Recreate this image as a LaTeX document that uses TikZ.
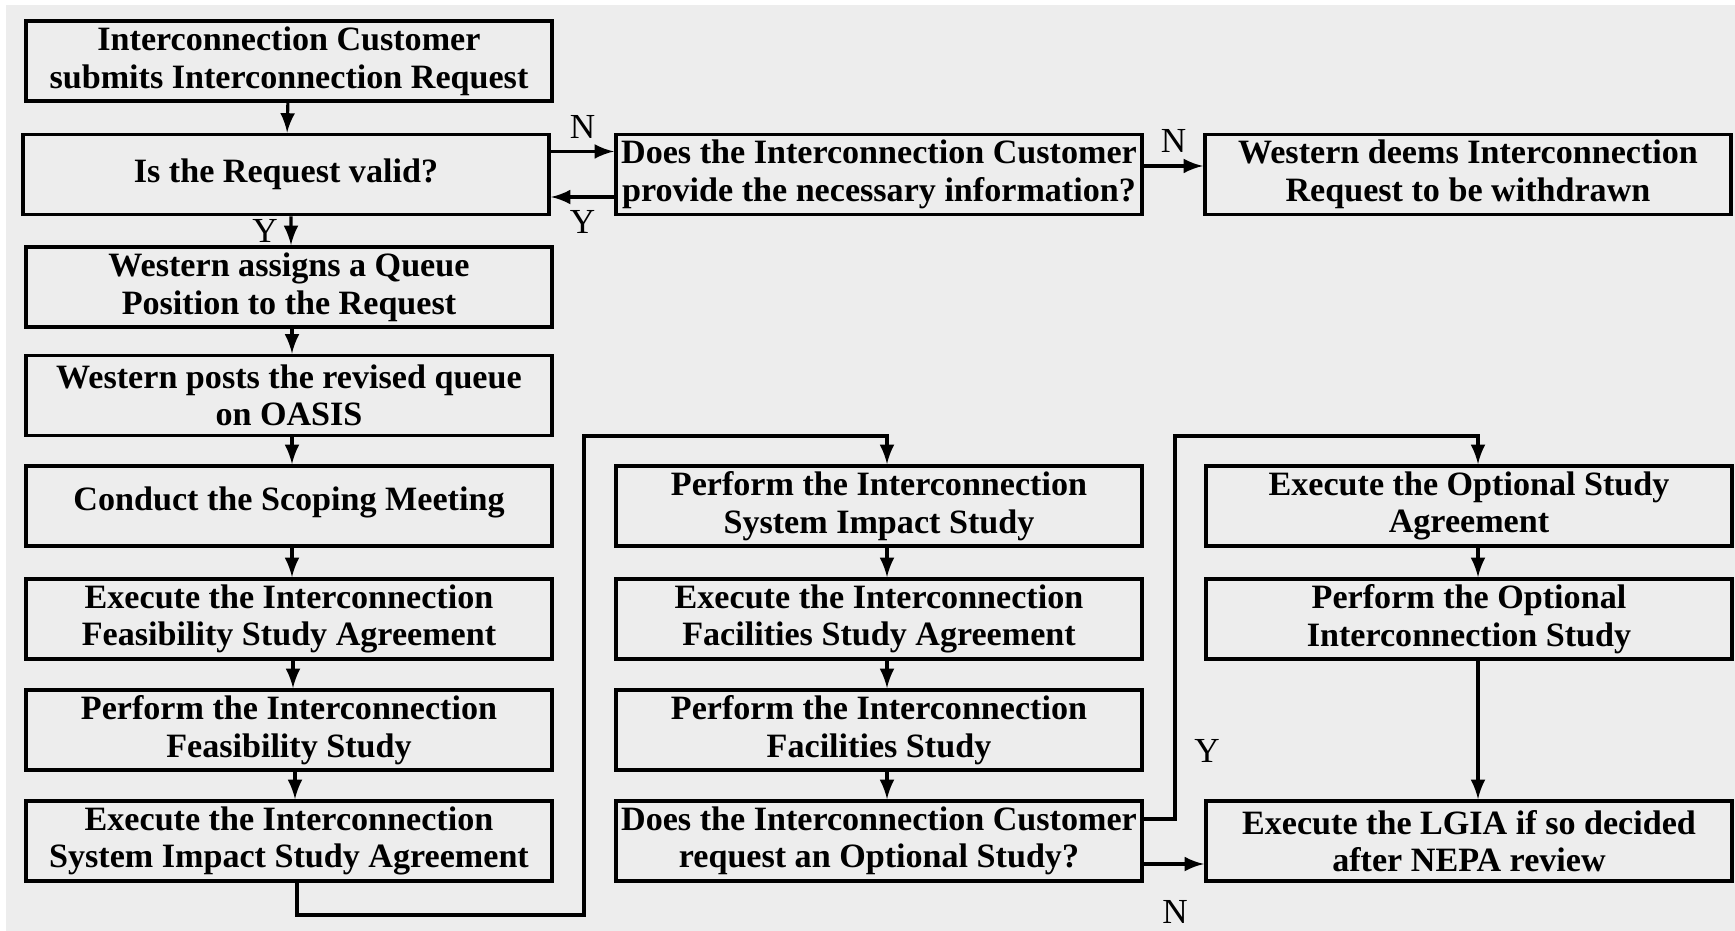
\documentclass[tikz,border=0pt]{standalone}
\usepackage{fontspec}
\setmainfont{Liberation Serif}
\usepackage{tikz}
\usetikzlibrary{calc}
\definecolor{bggray}{HTML}{EDEDED}
\newcommand{\boxfont}{\fontsize{9.7}{10.7}\selectfont\bfseries}

\begin{document}
\begin{tikzpicture}[x=0.01cm,y=-0.01cm,>=latex]
		\tikzset{stepbox/.style={draw,line width=1.1pt,minimum width=5.26cm,minimum height=0.8cm,inner sep=0pt,align=center,font=\boxfont},
			conn/.style={->,line width=0.9pt},
			yn/.style={font=\fontsize{10}{10.7}\selectfont}}
		%\useasboundingbox
		\useasboundingbox (0,0) rectangle (1735,931);
		\fill[white] (0,0) rectangle (1735,931);
		\fill[bggray] (6,5) rectangle (1735,931);
		% left column
		\node[stepbox] (req) at (289,61) {Interconnection Customer\\submits Interconnection Request};
		\node[stepbox] (valid) at (286,174.5) {Is the Request valid?};
		\node[stepbox] (queue) at (289,287) {Western assigns a Queue\\Position to the Request};
		\node[stepbox] (oasis) at (289,395.5) {Western posts the revised queue\\on OASIS};
		\node[stepbox] (scoping) at (289,506) {\raisebox{4pt}{Conduct the Scoping Meeting}};
		\node[stepbox] (feasagr) at (289,619) {Execute the Interconnection\\Feasibility Study Agreement};
		\node[stepbox] (feas) at (289,730) {Perform the Interconnection\\Feasibility Study};
		\node[stepbox] (sisagr) at (289,841) {Execute the Interconnection\\System Impact Study Agreement};
		% middle column
		\node[stepbox] (info) at (879,174.5) {Does the Interconnection Customer\\provide the necessary information?};
		\node[stepbox] (sis) at (879,506) {Perform the Interconnection\\System Impact Study};
		\node[stepbox] (facagr) at (879,619) {Execute the Interconnection\\Facilities Study Agreement};
		\node[stepbox] (fac) at (879,730) {Perform the Interconnection\\Facilities Study};
		\node[stepbox] (optq) at (879,841) {Does the Interconnection Customer\\request an Optional Study?};
		% right column
		\node[stepbox] (withdrawn) at (1468,174.5) {Western deems Interconnection\\Request to be withdrawn};
		\node[stepbox] (optagr) at (1469,506) {Execute the Optional Study\\Agreement};
		\node[stepbox] (opt) at (1469,619) {Perform the Optional\\Interconnection Study};
		\node[stepbox] (lgia) at (1469,841) {Execute the LGIA if so decided\\after NEPA review};
		% bends
		\coordinate (loopA) at (584,915);
		\coordinate (loopB) at (584,436);
		\coordinate (loopC) at (1175,436);
		% arrows
		\draw[conn] (req) -- (valid);
		\draw[conn] ([xshift=0.05cm]valid.south) -- node[yn,left]{Y} ([xshift=0.02cm]queue.north);
		\draw[conn] ([yshift=0.23cm]valid.east) -- node[yn,above]{N} ([yshift=0.23cm]info.west);
		\draw[conn] ([yshift=-0.225cm]info.west) -- node[yn,below]{Y} ([yshift=-0.225cm]valid.east);
		\draw[conn] ([yshift=0.085cm]info.east) -- node[yn,above]{N} ([yshift=0.085cm]withdrawn.west);
		\draw[conn] ([xshift=0.03cm]queue.south) -- ([xshift=0.03cm]oasis.north);
		\draw[conn] ([xshift=0.03cm]oasis.south) -- ([xshift=0.03cm]scoping.north);
		\draw[conn] ([xshift=0.03cm]scoping.south) -- ([xshift=0.03cm]feasagr.north);
		\draw[conn] ([xshift=0.04cm]feasagr.south) -- ([xshift=0.04cm]feas.north);
		\draw[conn] ([xshift=0.06cm]feas.south) -- ([xshift=0.06cm]sisagr.north);
		\draw[conn] ([xshift=0.08cm]sisagr.south) |- (loopA) -- (loopB) -| ([xshift=0.08cm]sis.north);
		\draw[conn] ([xshift=0.08cm]sis.south) -- ([xshift=0.08cm]facagr.north);
		\draw[conn] ([xshift=0.08cm]facagr.south) -- ([xshift=0.08cm]fac.north);
		\draw[conn] ([xshift=0.08cm]fac.south) -- ([xshift=0.08cm]optq.north);
		\draw[conn] ([yshift=0.22cm]optq.east) -| (loopC) -| ([xshift=0.09cm]optagr.north);
		\draw[conn] ([yshift=-0.23cm]optq.east) -- ([yshift=-0.23cm]lgia.west);
		\draw[conn] ([xshift=0.09cm]optagr.south) -- ([xshift=0.09cm]opt.north);
		\draw[conn] ([xshift=0.09cm]opt.south) -- ([xshift=0.09cm]lgia.north);
		\node[yn] (ylab) at (1207,751) {Y};
		\node[yn] (nlab) at (1175,912) {N};
	\end{tikzpicture}
\end{document}
